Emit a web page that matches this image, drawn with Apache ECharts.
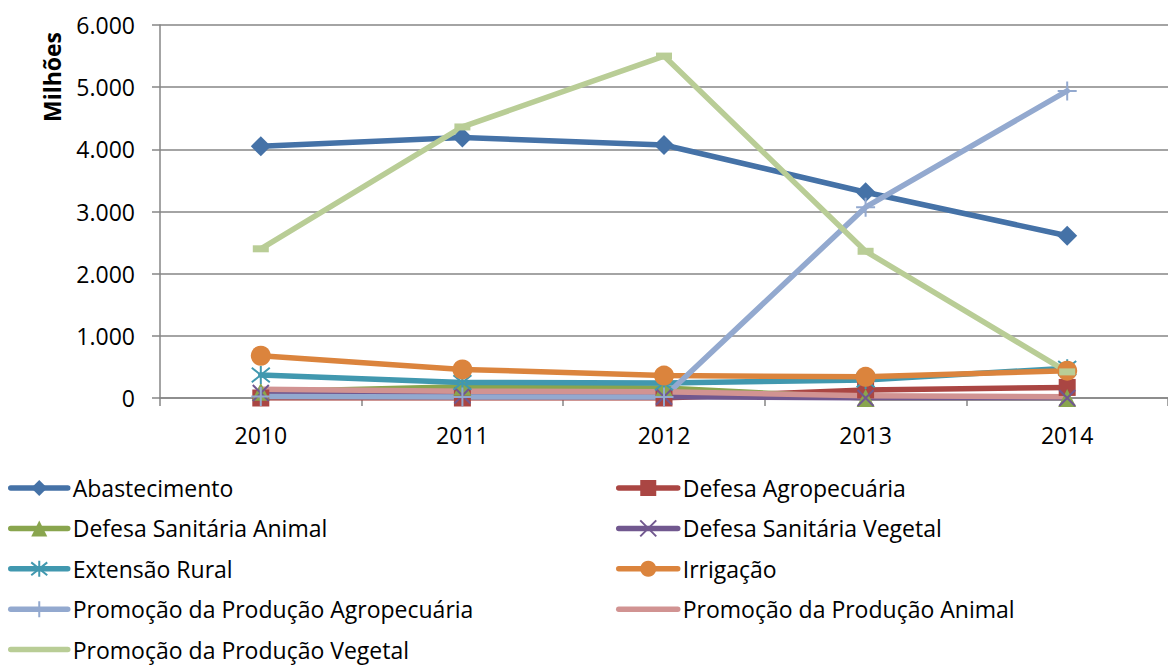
<!DOCTYPE html>
<html>
<head>
<meta charset="utf-8">
<script src="https://cdn.jsdelivr.net/npm/echarts@6/dist/echarts.min.js"></script>
<style>html,body{margin:0;padding:0;background:#fff}#c{width:1168px;height:666px}</style>
</head>
<body>
<div id="c"></div>
<script>
var categories = ['2010', '2011', '2012', '2013', '2014'];
var abastecimento = [4050, 4190, 4070, 3310, 2610];
var defesaAgropecuaria = [0, 0, 0, 130, 170];
var defesaSanitariaAnimal = [100, 180, 160, 0, 0];
var defesaSanitariaVegetal = [80, 40, 20, 0, 0];
var extensaoRural = [370, 250, 240, 290, 480];
var irrigacao = [680, 460, 360, 340, 440];
var promocaoAgropecuaria = [25, 15, 15, 3070, 4940];
var promocaoAnimal = [140, 110, 100, 35, 20];
var promocaoVegetal = [2400, 4360, 5500, 2360, 420];
var yTicks = [0, 1000, 2000, 3000, 4000, 5000, 6000];
var yAxisTitle = 'Milhões';

var FONT = '"Open Sans", "Noto Sans", sans-serif';
function mk(name, data, color, symbol, size, stroke) {
  return {
    name: name, type: 'line', data: data,
    symbol: symbol, symbolSize: size, showSymbol: symbol !== 'none',
    lineStyle: { color: color, width: 5.5, cap: 'round', join: 'round' },
    itemStyle: { color: color, borderColor: color, borderWidth: stroke || 0 },
    emphasis: { disabled: true },
    animation: false
  };
}
var XS = 'path://M0,0L10,10M10,0L0,10';
var AST = 'path://M0,1L10,9M10,1L0,9M5,0L5,10';
var PLUS = 'path://M5,0L5,10M0,5L10,5';
var series = [
  mk('Abastecimento', abastecimento, '#4572A7', 'diamond', 20),
  mk('Defesa Agropecuária', defesaAgropecuaria, '#AA4643', 'rect', 17),
  mk('Defesa Sanitária Animal', defesaSanitariaAnimal, '#89A54E', 'triangle', 18),
  mk('Defesa Sanitária Vegetal', defesaSanitariaVegetal, '#71588F', XS, 16, 2),
  mk('Extensão Rural', extensaoRural, '#4198AF', AST, 18, 2),
  mk('Irrigação', irrigacao, '#DB843D', 'circle', 20),
  mk('Promoção da Produção Agropecuária', promocaoAgropecuaria, '#93A9CF', PLUS, 19, 2),
  mk('Promoção da Produção Animal', promocaoAnimal, '#D19392', 'none', 0),
  mk('Promoção da Produção Vegetal', promocaoVegetal, '#B9CD96', 'rect', [16, 7])
];
function plainItem(name) {
  return { name: name, itemStyle: { color: 'rgba(0,0,0,0)', borderColor: 'rgba(0,0,0,0)', borderWidth: 0 } };
}

var chart = echarts.init(document.getElementById('c'), null, { renderer: 'svg' });
var legendText = { fontFamily: FONT, fontSize: 23, color: '#000', lineHeight: 24 };
var legendLine = { width: 5.5, cap: 'round' };
chart.setOption({
  backgroundColor: '#fff',
  animation: false,
  textStyle: { fontFamily: FONT },
  grid: { left: 160, top: 25, width: 1012, height: 373, containLabel: false },
  xAxis: {
    type: 'category', data: categories, boundaryGap: true,
    axisLine: { show: true, lineStyle: { color: '#868686', width: 1.5 } },
    axisTick: { show: true, length: 8, alignWithLabel: false, lineStyle: { color: '#868686', width: 1.5 } },
    axisLabel: { fontFamily: FONT, fontSize: 23, color: '#000', margin: 25 },
    splitLine: { show: false }
  },
  yAxis: {
    type: 'value', min: yTicks[0], max: yTicks[yTicks.length - 1], interval: 1000,
    axisLine: { show: true, lineStyle: { color: '#868686', width: 1.5 } },
    axisTick: { show: true, length: 8, lineStyle: { color: '#868686', width: 1.5 } },
    axisLabel: {
      fontFamily: FONT, fontSize: 23, color: '#000', margin: 25,
      formatter: function (v) { return v === 0 ? '0' : (v / 1000) + '.000'; }
    },
    splitLine: { show: true, lineStyle: { color: '#868686', width: 1.5 } }
  },
  legend: [
    {
      orient: 'vertical', left: 8, top: 476, padding: 0, itemWidth: 57, itemHeight: 20, itemGap: 16.4,
      data: [series[0].name, series[2].name, series[4].name, series[6].name, plainItem(series[8].name)],
      textStyle: legendText, lineStyle: legendLine, selectedMode: false
    },
    {
      orient: 'vertical', left: 616, top: 476, padding: 0, itemWidth: 59, itemHeight: 20, itemGap: 16.4,
      data: [series[1].name, series[3].name, series[5].name, plainItem(series[7].name)],
      textStyle: legendText, lineStyle: legendLine, selectedMode: false
    }
  ],
  graphic: [{
    type: 'text', x: 52, y: 77, rotation: Math.PI / 2,
    style: { text: yAxisTitle, font: 'bold 23px ' + FONT, fill: '#000', align: 'center', verticalAlign: 'middle' }
  }],
  series: series
});
</script>
</body>
</html>
